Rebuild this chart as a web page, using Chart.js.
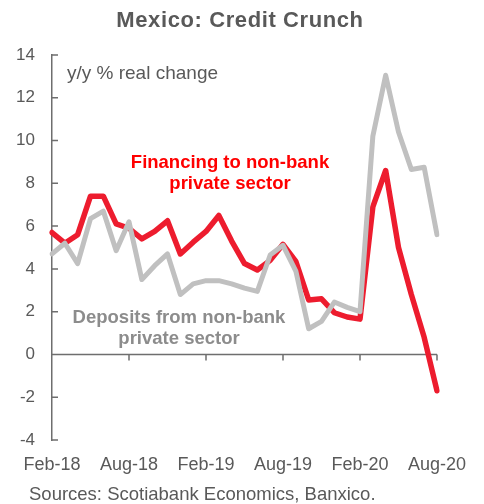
<!DOCTYPE html>
<html>
<head>
<meta charset="utf-8">
<script src="https://cdn.jsdelivr.net/npm/chart.js@4"></script>
<style>
  html, body { margin: 0; padding: 0; background: #fff; }
  #wrap { width: 484px; height: 504px; position: relative; }
</style>
</head>
<body>
<div id="wrap"><canvas id="chart" width="484" height="504"></canvas></div>
<script>
const months = [
    'Feb-18', 'Mar-18', 'Apr-18', 'May-18', 'Jun-18', 'Jul-18', 'Aug-18', 'Sep-18', 'Oct-18', 'Nov-18', 'Dec-18',
    'Jan-19', 'Feb-19', 'Mar-19', 'Apr-19', 'May-19', 'Jun-19', 'Jul-19', 'Aug-19', 'Sep-19', 'Oct-19', 'Nov-19', 'Dec-19',
    'Jan-20', 'Feb-20', 'Mar-20', 'Apr-20', 'May-20', 'Jun-20', 'Jul-20', 'Aug-20'
];

// y/y % real change
const financing = [
    5.7, 5.2, 5.6, 7.4, 7.4, 6.1, 5.9, 5.4, 5.75, 6.25, 4.7,
    5.25, 5.75, 6.5, 5.3, 4.25, 3.95, 4.4, 5.15, 4.35, 2.55, 2.6, 1.95,
    1.75, 1.65, 6.9, 8.6, 5.0, 2.8, 0.8, -1.7
];
const deposits = [
    4.7, 5.2, 4.25, 6.35, 6.7, 4.85, 6.2, 3.5, 4.15, 4.7, 2.8,
    3.3, 3.45, 3.45, 3.3, 3.1, 2.95, 4.65, 5.1, 3.9, 1.2, 1.55, 2.45,
    2.2, 2.0, 10.2, 13.05, 10.4, 8.65, 8.75, 5.6
];

const yTicks = [-4, -2, 0, 2, 4, 6, 8, 10, 12, 14];
const xTickEvery = 6;

const FONT = '"Liberation Sans", Arial, sans-serif';
const GREY_TEXT = '#595959';
const AXIS = '#6e6e6e';

// axis line at zero with tick marks, plus inward ticks on the y axis
const axesPlugin = {
    id: 'axes',
    beforeDatasetsDraw(chart) {
        const { ctx, chartArea, scales } = chart;
        const x = scales.x, y = scales.y;
        const y0 = y.getPixelForValue(0);
        ctx.save();
        ctx.strokeStyle = AXIS;
        ctx.lineWidth = 1.5;
        ctx.beginPath();
        ctx.moveTo(chartArea.left, y0);
        ctx.lineTo(x.getPixelForValue(months.length - 1), y0);
        months.forEach((m, i) => {
            if (i > 0 && i % xTickEvery === 0) {
                const px = x.getPixelForValue(i);
                ctx.moveTo(px, y0);
                ctx.lineTo(px, y0 + 6);
            }
        });
        yTicks.forEach(v => {
            const py = y.getPixelForValue(v);
            ctx.moveTo(chartArea.left, py);
            ctx.lineTo(chartArea.left + 6, py);
        });
        ctx.stroke();
        ctx.restore();
    },
    afterDraw(chart) {
        const ctx = chart.ctx;
        ctx.save();
        ctx.textAlign = 'center';
        ctx.textBaseline = 'middle';

        ctx.fillStyle = GREY_TEXT;
        ctx.font = `bold 22px ${FONT}`;
        ctx.letterSpacing = '0.6px';
        ctx.fillText('Mexico: Credit Crunch', 240, 21);
        ctx.letterSpacing = '0px';

        ctx.textAlign = 'left';
        ctx.font = `19px ${FONT}`;
        ctx.fillText('y/y % real change', 67, 74);

        ctx.font = `18.5px ${FONT}`;
        ctx.fillText('Sources: Scotiabank Economics, Banxico.', 29, 495);

        ctx.textAlign = 'center';
        ctx.fillStyle = '#ff0000';
        ctx.font = `bold 18.5px ${FONT}`;
        ctx.fillText('Financing to non-bank', 230, 163);
        ctx.fillText('private sector', 230, 184);

        ctx.fillStyle = '#8c8c8c';
        ctx.fillText('Deposits from non-bank', 179, 318);
        ctx.fillText('private sector', 179, 339);
        ctx.restore();
    }
};

new Chart(document.getElementById('chart'), {
    type: 'line',
    data: {
        labels: months,
        datasets: [
            {
                label: 'Deposits from non-bank private sector',
                data: deposits,
                borderColor: '#c0c0c0',
                borderWidth: 5,
                pointRadius: 0,
                tension: 0,
                borderJoinStyle: 'round',
                borderCapStyle: 'round'
            },
            {
                label: 'Financing to non-bank private sector',
                data: financing,
                borderColor: '#ed1c2e',
                borderWidth: 5.5,
                pointRadius: 0,
                tension: 0,
                borderJoinStyle: 'round',
                borderCapStyle: 'round'
            }
        ]
    },
    options: {
        responsive: false,
        animation: false,
        layout: { padding: { top: 55, right: 47, left: 0, bottom: 0 } },
        plugins: {
            legend: { display: false },
            title: { display: false },
            tooltip: { enabled: false }
        },
        scales: {
            x: {
                type: 'category',
                offset: false,
                grid: { display: false, drawTicks: false },
                border: { display: false },
                ticks: {
                    autoSkip: false,
                    maxRotation: 0,
                    padding: 14,
                    color: GREY_TEXT,
                    font: { family: FONT, size: 18 },
                    callback: (v, i) => (i % xTickEvery === 0 ? months[i] : '')
                },
                afterFit: s => { s.height = 64; }
            },
            y: {
                min: -4,
                max: 14,
                afterBuildTicks: s => { s.ticks = yTicks.map(v => ({ value: v })); },
                grid: { display: false, drawTicks: false },
                border: { display: true, color: AXIS, width: 1.5 },
                ticks: {
                    padding: 17,
                    color: GREY_TEXT,
                    font: { family: FONT, size: 17 }
                },
                afterFit: s => { s.width = 52; }
            }
        }
    },
    plugins: [axesPlugin]
});
</script>
</body>
</html>
